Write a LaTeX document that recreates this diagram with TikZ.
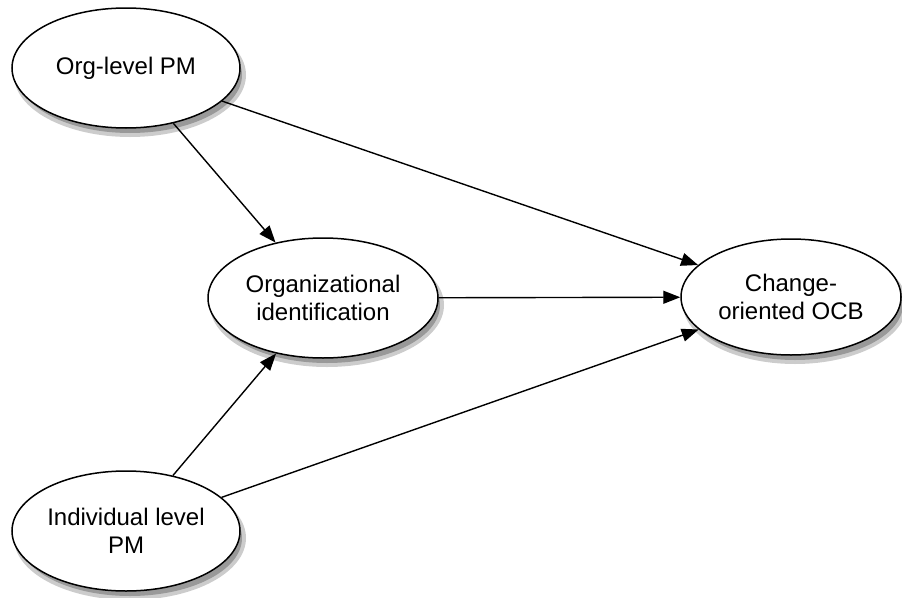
\documentclass[tikz,border=0pt]{standalone}
\usepackage{fontspec}
\setmainfont{Liberation Sans}
\usetikzlibrary{shapes.geometric,arrows.meta}

\begin{document}
\begin{tikzpicture}[x=1pt, y=-1pt,
    construct/.style={ellipse, draw, line width=1.5pt, fill=white,
      minimum width=228pt, minimum height=120pt, inner sep=0pt,
      align=center, font=\fontsize{24}{28}\selectfont},
    path/.style={-{Triangle[length=17pt, width=13pt]}, line width=1.4pt}]
\useasboundingbox (0,0) rectangle (902,597);

% Shadows
\fill[black!20] (130,75) ellipse [x radius=116, y radius=62];
\fill[black!40] (130,75) ellipse [x radius=112, y radius=58];
\fill[black!20] (327,305) ellipse [x radius=117, y radius=62];
\fill[black!40] (327,305) ellipse [x radius=113, y radius=58];
\fill[black!20] (795,304) ellipse [x radius=112, y radius=60];
\fill[black!40] (795,304) ellipse [x radius=108, y radius=56];
\fill[black!20] (130,538) ellipse [x radius=116, y radius=62];
\fill[black!40] (130,538) ellipse [x radius=112, y radius=58];

% Constructs
\node[construct] (orgpm) at (126,68) {Org-level PM};
\node[construct, minimum width=230pt] (orgid) at (323,298) {Organizational\\identification};
\node[construct, minimum width=220pt, minimum height=116pt] (ocb) at (791,297) {Change-\\oriented OCB};
\node[construct] (indpm) at (126,531) {Individual level\\PM};

% Paths
\draw[path] (orgpm) -- (orgid);
\draw[path] (orgpm) -- (ocb);
\draw[path] (orgid) -- (ocb);
\draw[path] (indpm) -- (orgid);
\draw[path] (indpm) -- (ocb);
\end{tikzpicture}
\end{document}
